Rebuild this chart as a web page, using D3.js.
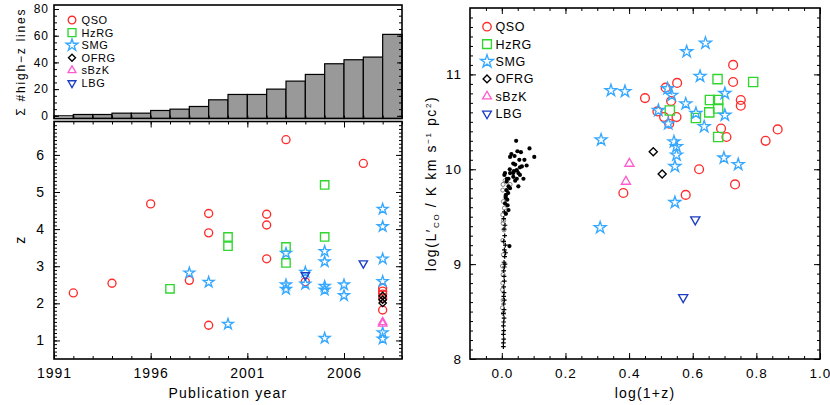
<!DOCTYPE html>
<html>
<head>
<meta charset="utf-8">
<script src="https://cdn.jsdelivr.net/npm/d3@7"></script>
<style>
body { margin: 0; background: #fff; }
svg text { font-family: "Liberation Sans", Arial, sans-serif; fill: #000; }
</style>
</head>
<body>
<svg width="830" height="405"></svg>
<script>
// ---- data ----
const types = ["QSO", "HzRG", "SMG", "OFRG", "sBzK", "LBG"];
const typeColors = ["#ff2b2b", "#2ed62e", "#36a8ff", "#000000", "#ff5ccd", "#1c3cc4"];

// cumulative number of high-z CO lines per publication year
const histYears = [1991, 1992, 1993, 1994, 1995, 1996, 1997, 1998, 1999, 2000, 2001, 2002, 2003, 2004, 2005, 2006, 2007, 2008];
const cumLines = [0, 1, 1, 2, 2, 4, 5, 7, 12, 16, 16, 20, 26, 31, 39, 42, 44, 61];

// [publication year, z]
const yrQSO = [[1992,2.28],[1994,2.54],[1996,4.68],[1998,2.62],[1999,4.42],[1999,3.90],[1999,1.41],[2002,4.40],[2002,4.11],[2002,3.20],[2003,6.41],[2004,2.58],[2007,5.77],[2008,2.42],[2008,2.33],[2008,2.25],[2008,2.14],[2008,1.82]];
const yrHzRG = [[1997,2.39],[2000,3.79],[2000,3.54],[2003,3.52],[2003,3.09],[2005,5.19],[2005,3.79]];
const yrSMG = [[1998,2.82],[1999,2.57],[2000,1.44],[2003,3.35],[2003,2.50],[2003,2.38],[2004,2.84],[2004,2.52],[2005,3.40],[2005,3.12],[2005,2.46],[2005,2.36],[2005,1.06],[2006,2.50],[2006,2.21],[2008,4.54],[2008,4.07],[2008,3.20],[2008,2.59],[2008,1.21],[2008,1.04]];
const yrOFRG = [[2008,2.20],[2008,2.10],[2008,2.01]];
const yrSBzK = [[2008,1.49],[2008,1.45]];
const yrLBG = [[2004,2.76],[2007,3.08]];

// [log(1+z), log L'CO]
const lzQSO = [[0.727,11.10],[0.727,10.92],[0.551,10.91],[0.515,10.86],[0.450,10.75],[0.532,10.72],[0.489,10.61],[0.510,10.55],[0.549,10.55],[0.526,10.48],[0.751,10.73],[0.751,10.67],[0.689,10.43],[0.706,10.34],[0.867,10.42],[0.829,10.30],[0.620,10.00],[0.733,9.84],[0.382,9.75],[0.578,9.73]];
const lzHzRG = [[0.678,10.95],[0.790,10.92],[0.654,10.73],[0.680,10.73],[0.652,10.60],[0.680,10.64],[0.610,10.54],[0.680,10.34],[0.528,10.62]];
const lzSMG = [[0.343,10.83],[0.387,10.82],[0.312,10.31],[0.581,11.24],[0.640,11.33],[0.623,10.98],[0.521,10.85],[0.534,10.78],[0.578,10.69],[0.610,10.59],[0.636,10.45],[0.701,10.80],[0.701,10.57],[0.523,10.48],[0.492,10.62],[0.541,10.29],[0.549,10.24],[0.549,10.15],[0.544,10.03],[0.698,10.12],[0.743,10.05],[0.309,9.385],[0.544,9.65]];
const lzOFRG = [[0.476,10.185],[0.504,9.95]];
const lzSBzK = [[0.401,10.06],[0.390,9.87]];
const lzLBG = [[0.608,9.47],[0.570,8.65]];

// local galaxies near z = 0
const localFilled = [[0.045,10.30],[0.030,10.16],[0.049,10.19],[0.060,10.18],[0.087,10.22],[0.102,10.13],[0.071,10.10],[0.063,10.03],[0.036,10.06],[0.026,10.13],[0.042,10.05],[0.057,10.02],[0.047,9.99],[0.010,9.96],[0.016,9.90],[0.026,9.96],[0.036,9.96],[0.052,9.96],[0.057,9.94],[0.036,9.92],[0.021,9.90],[0.047,9.90],[0.068,9.90],[0.008,9.94],[0.015,9.87],[0.042,9.88],[0.052,9.82],[0.021,9.82],[0.015,9.78],[0.026,9.80],[0.013,9.73],[0.017,9.68],[0.010,9.64],[0.021,9.57],[0.024,9.19],[0.013,9.53],[0.040,10.14],[0.055,10.10],[0.078,10.04],[0.025,10.00],[0.038,9.98],[0.012,9.70],[0.018,9.62],[0.020,9.75]];
const localOpen = [[0.004,9.84],[0.026,9.84],[0.003,9.78],[0.012,9.72],[0.005,9.66],[0.008,9.59],[0.003,9.52],[0.006,9.46],[0.004,9.43],[0.007,9.36],[0.003,9.25],[0.005,9.10],[0.002,8.98],[0.004,8.89],[0.003,8.80],[0.002,8.73],[0.004,8.62],[0.002,8.54],[0.005,8.48],[0.010,9.88]];
const localCross = [[0.008,9.55],[0.006,9.48],[0.010,9.41],[0.007,9.37],[0.009,9.30],[0.006,9.24],[0.011,9.20],[0.008,9.15],[0.012,9.12],[0.009,9.08],[0.007,9.02],[0.010,9.00],[0.008,8.97],[0.006,8.93],[0.007,8.87],[0.008,8.82],[0.006,8.76],[0.007,8.70],[0.006,8.66],[0.008,8.62],[0.006,8.58],[0.007,8.52],[0.005,8.48],[0.007,8.43],[0.006,8.39],[0.005,8.35],[0.006,8.30],[0.005,8.26],[0.006,8.21],[0.005,8.17],[0.005,8.13]];

// tick labels
const yearTicks = [1991, 1996, 2001, 2006];
const histTicks = [0, 20, 40, 60, 80];
const zTicks = [1, 2, 3, 4, 5, 6];
const lzTicks = [0.0, 0.2, 0.4, 0.6, 0.8, 1.0];
const lumTicks = [8, 9, 10, 11];

const yrSets = [yrQSO, yrHzRG, yrSMG, yrOFRG, yrSBzK, yrLBG];
const lzSets = [lzQSO, lzHzRG, lzSMG, lzOFRG, lzSBzK, lzLBG];

// ---- setup ----
const svg = d3.select("svg");
const font = "Liberation Sans, Arial, sans-serif";

const xYear = d3.scaleLinear().domain([1991, 2009]).range([54, 402]);
const yHist = d3.scaleLinear().domain([-2, 83]).range([118.5, 5]);
const yZ = d3.scaleLinear().domain([0.5, 6.9]).range([359, 121.5]);
const xL = d3.scaleLinear().domain([-0.1, 1.0]).range([470, 820]);
const yL = d3.scaleLinear().domain([8, 11.7]).range([359, 8]);

function shape(i, s) {
	let p;
	if (i === 0) p = d3.symbol(d3.symbolCircle, Math.PI * 16 * s * s)();
	else if (i === 1) p = d3.symbol(d3.symbolSquare, 70 * s * s)();
	else if (i === 2) p = d3.symbol(d3.symbolStar, 36 * s * s)();
	else if (i === 3) { let r = 3.7 * s; p = "M0," + (-r) + "L" + r + ",0L0," + r + "L" + (-r) + ",0Z"; }
	else p = d3.symbol(d3.symbolTriangle, 30 * s * s)();
	return p;
}

function addTicks(g, axisFn, scale, pos, values, len, fmt, fsize, pad) {
	let ax = axisFn(scale).tickValues(values).tickSizeInner(-len).tickSizeOuter(0)
		.tickPadding(pad || 6).tickFormat(fmt || "");
	let a = g.append("g").attr("transform", pos).call(ax);
	a.select(".domain").remove();
	a.attr("font-family", font).attr("font-size", fsize || 13);
	a.selectAll("line").attr("stroke", "#000").attr("stroke-width", 1);
	a.selectAll("text").attr("letter-spacing", 1);
	return a;
}

function frame(g, x, y) {
	g.append("rect")
		.attr("x", x.range()[0]).attr("y", y.range()[1])
		.attr("width", x.range()[1] - x.range()[0])
		.attr("height", y.range()[0] - y.range()[1])
		.attr("fill", "none").attr("stroke", "#000").attr("stroke-width", 1.6);
}

function drawPoints(g, x, y, sets, s) {
	sets.forEach(function(set, i) {
		g.selectAll(".p" + i).data(set).enter().append("path")
			.attr("class", "p" + i)
			.attr("d", shape(i, s))
			.attr("transform", function(d) {
				return "translate(" + x(d[0]) + "," + y(d[1]) + ")" + (i === 5 ? " rotate(180)" : "");
			})
			.attr("fill", "none").attr("stroke", typeColors[i]).attr("stroke-width", 1.35);
	});
}

function legend(g, x0, y0, dy, fsize, s, gap) {
	types.forEach(function(t, i) {
		g.append("path").attr("d", shape(i, i === 2 ? s * 1.15 : s))
			.attr("transform", "translate(" + x0 + "," + (y0 + i * dy) + ")" + (i === 5 ? " rotate(180)" : ""))
			.attr("fill", "none").attr("stroke", typeColors[i]).attr("stroke-width", 1.35);
		g.append("text").attr("x", x0 + gap).attr("y", y0 + i * dy).attr("dy", "0.36em")
			.attr("font-size", fsize).attr("letter-spacing", 0.6).text(t);
	});
}

// ---- top left: cumulative histogram ----
const gh = svg.append("g");
const bw = xYear(1992) - xYear(1991);
gh.selectAll(".bar").data(histYears).enter().append("rect")
	.attr("class", "bar")
	.attr("x", function(d) { return xYear(d); })
	.attr("width", bw)
	.attr("y", function(d, i) { return yHist(cumLines[i]); })
	.attr("height", function(d, i) { return yHist.range()[0] - yHist(cumLines[i]); })
	.attr("fill", function(d, i) { return cumLines[i] > 0 ? "#999" : "none"; })
	.attr("stroke", "#000").attr("stroke-width", 1.2);

addTicks(gh, d3.axisLeft, yHist, "translate(" + xYear.range()[0] + ",0)", histTicks, 5, d3.format("d"), 12, 5);
addTicks(gh, d3.axisLeft, yHist, "translate(" + xYear.range()[0] + ",0)", d3.range(0, 81, 5), 3);
addTicks(gh, d3.axisRight, yHist, "translate(" + xYear.range()[1] + ",0)", histTicks, 5);
addTicks(gh, d3.axisRight, yHist, "translate(" + xYear.range()[1] + ",0)", d3.range(0, 81, 5), 3);
addTicks(gh, d3.axisBottom, xYear, "translate(0," + yHist.range()[0] + ")", d3.range(1991, 2010, 1), 3);
frame(gh, xYear, yHist);
legend(gh, 72, 20, 12.6, 11, 0.95, 9.5);

gh.append("text")
	.attr("transform", "translate(25," + ((yHist.range()[0] + yHist.range()[1]) / 2) + ") rotate(-90)")
	.attr("text-anchor", "middle").attr("font-size", 12).attr("letter-spacing", 1.8)
	.text("\u03A3 #high\u2212z lines");

// ---- bottom left: z vs publication year ----
const gz = svg.append("g");
addTicks(gz, d3.axisBottom, xYear, "translate(0," + yZ.range()[0] + ")", yearTicks, 6, d3.format("d"), 14, 9);
addTicks(gz, d3.axisBottom, xYear, "translate(0," + yZ.range()[0] + ")", d3.range(1991, 2010, 1), 3);
addTicks(gz, d3.axisTop, xYear, "translate(0," + yZ.range()[1] + ")", yearTicks, 6);
addTicks(gz, d3.axisTop, xYear, "translate(0," + yZ.range()[1] + ")", d3.range(1991, 2010, 1), 3);
addTicks(gz, d3.axisLeft, yZ, "translate(" + xYear.range()[0] + ",0)", zTicks, 6, d3.format("d"), 14, 9);
addTicks(gz, d3.axisLeft, yZ, "translate(" + xYear.range()[0] + ",0)", d3.range(0.6, 6.85, 0.1), 3);
addTicks(gz, d3.axisRight, yZ, "translate(" + xYear.range()[1] + ",0)", zTicks, 6);
addTicks(gz, d3.axisRight, yZ, "translate(" + xYear.range()[1] + ",0)", d3.range(0.6, 6.85, 0.1), 3);
drawPoints(gz, xYear, yZ, yrSets, 1);
frame(gz, xYear, yZ);

gz.append("text")
	.attr("transform", "translate(25," + ((yZ.range()[0] + yZ.range()[1]) / 2) + ") rotate(-90)")
	.attr("text-anchor", "middle").attr("font-size", 14).text("z");
gz.append("text").attr("x", (xYear.range()[0] + xYear.range()[1]) / 2).attr("y", 398)
	.attr("text-anchor", "middle").attr("font-size", 14).attr("letter-spacing", 1.2)
	.text("Publication year");

// ---- right: L'CO vs log(1+z) ----
const gr = svg.append("g");
addTicks(gr, d3.axisBottom, xL, "translate(0," + yL.range()[0] + ")", lzTicks, 6, d3.format(".1f"), 13.5, 9);
addTicks(gr, d3.axisBottom, xL, "translate(0," + yL.range()[0] + ")", d3.range(-0.05, 1.0, 0.05), 3);
addTicks(gr, d3.axisTop, xL, "translate(0," + yL.range()[1] + ")", lzTicks, 6);
addTicks(gr, d3.axisTop, xL, "translate(0," + yL.range()[1] + ")", d3.range(-0.05, 1.0, 0.05), 3);
addTicks(gr, d3.axisLeft, yL, "translate(" + xL.range()[0] + ",0)", lumTicks, 6, d3.format("d"), 13.5, 8);
addTicks(gr, d3.axisLeft, yL, "translate(" + xL.range()[0] + ",0)", d3.range(8.1, 11.7, 0.1), 3);
addTicks(gr, d3.axisRight, yL, "translate(" + xL.range()[1] + ",0)", lumTicks, 6);
addTicks(gr, d3.axisRight, yL, "translate(" + xL.range()[1] + ",0)", d3.range(8.1, 11.7, 0.1), 3);

gr.selectAll(".lo").data(localOpen).enter().append("circle").attr("class", "lo")
	.attr("cx", function(d) { return xL(d[0]); }).attr("cy", function(d) { return yL(d[1]); })
	.attr("r", 2).attr("fill", "none").attr("stroke", "#777").attr("stroke-width", 0.9);
gr.selectAll(".lc").data(localCross).enter().append("path").attr("class", "lc")
	.attr("d", "M-2.3,0H2.3M0,-2.3V2.3")
	.attr("transform", function(d) { return "translate(" + xL(d[0]) + "," + yL(d[1]) + ")"; })
	.attr("stroke", "#000").attr("stroke-width", 1.2);
gr.selectAll(".lf").data(localFilled).enter().append("circle").attr("class", "lf")
	.attr("cx", function(d) { return xL(d[0]); }).attr("cy", function(d) { return yL(d[1]); })
	.attr("r", 2.1).attr("fill", "#000");

drawPoints(gr, xL, yL, lzSets, 1.1);
frame(gr, xL, yL);
legend(gr, 487, 26.7, 17.4, 12.5, 1.05, 8.5);

const ylab = gr.append("text")
	.attr("transform", "translate(436," + ((yL.range()[0] + yL.range()[1]) / 2) + ") rotate(-90)")
	.attr("text-anchor", "middle").attr("font-size", 14).attr("letter-spacing", 1.6);
ylab.append("tspan").text("log(L\u2032");
ylab.append("tspan").attr("font-size", 8).attr("dy", 3).text("CO");
ylab.append("tspan").attr("dy", -3).text(" / K km s");
ylab.append("tspan").attr("font-size", 8).attr("dy", -5).text("\u22121");
ylab.append("tspan").attr("dy", 5).text(" pc");
ylab.append("tspan").attr("font-size", 8).attr("dy", -5).text("2");
ylab.append("tspan").attr("dy", 5).text(")");

gr.append("text").attr("x", (xL.range()[0] + xL.range()[1]) / 2).attr("y", 398)
	.attr("text-anchor", "middle").attr("font-size", 14).attr("letter-spacing", 1.2)
	.text("log(1+z)");
</script>
</body>
</html>
